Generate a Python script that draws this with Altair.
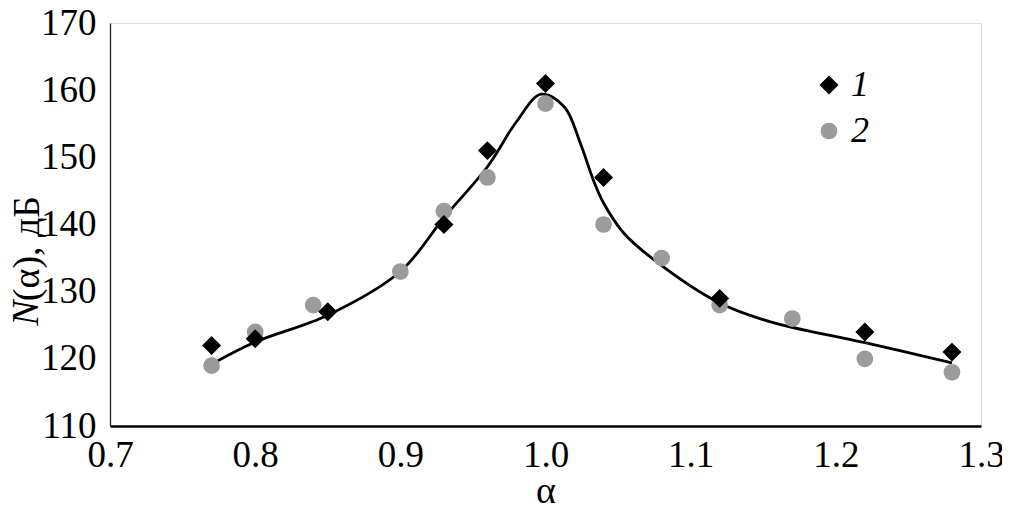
import altair as alt
import pandas as pd

# Series 1 (diamonds)
alpha_1 = [0.77, 0.80, 0.85, 0.93, 0.96, 1.00, 1.04, 1.12, 1.22, 1.28]
n_1 = [122, 123, 127, 140, 151, 161, 147, 129, 124, 121]

# Series 2 (grey circles)
alpha_2 = [0.77, 0.80, 0.84, 0.90, 0.93, 0.96, 1.00, 1.04, 1.08, 1.12, 1.17, 1.22, 1.28]
n_2 = [119, 124, 128, 133, 142, 147, 158, 140, 135, 128, 126, 120, 118]

# Fitted curve
curve_alpha = [0.77, 0.80, 0.85, 0.90, 0.93, 0.96, 0.98, 0.997, 1.013, 1.024, 1.033,
               1.04, 1.054, 1.075, 1.12, 1.155, 1.22, 1.28]
curve_n = [119.2, 122.5, 126.5, 133.0, 141.0, 148.6, 155.3, 159.4, 157.5, 152.1, 146.6,
           143.2, 138.7, 134.7, 128.3, 125.5, 122.4, 119.4]

x_ticks = [0.7, 0.8, 0.9, 1.0, 1.1, 1.2, 1.3]
y_ticks = [110, 120, 130, 140, 150, 160, 170]

series_names = ["1", "2"]
y_title_italic = "N"
y_title_rest = "(α), дБ"

pts = pd.concat([
    pd.DataFrame({"alpha": alpha_1, "N": n_1, "series": "1"}),
    pd.DataFrame({"alpha": alpha_2, "N": n_2, "series": "2"}),
])
pts["order"] = pts["series"].map({"1": 2, "2": 1})
curve = pd.DataFrame({"alpha": curve_alpha, "N": curve_n})

FONT = "Liberation Serif"

xscale = alt.Scale(domain=[0.7, 1.3], nice=False, zero=False)
yscale = alt.Scale(domain=[110, 170], nice=False, zero=False)

xaxis = alt.Axis(values=x_ticks, format=".1f", title="α", grid=False, ticks=False, tickSize=0,
                 labelFont=FONT, labelFontSize=37, labelColor="#000", labelPadding=40,
                 labelBaseline="alphabetic", labelFlush=False,
                 domainColor="#000", domainWidth=2.5,
                 titleFont=FONT, titleFontSize=38, titleFontWeight="normal", titleColor="#000",
                 titleBaseline="alphabetic", titleY=76)
yaxis = alt.Axis(values=y_ticks, title=y_title_rest, grid=False, ticks=False, tickSize=0,
                 labelFont=FONT, labelFontSize=37, labelColor="#000", labelPadding=14,
                 labelFlush=False,
                 domainColor="#222", domainWidth=1.3,
                 titleFont=FONT, titleFontSize=38, titleFontWeight="normal", titleColor="#000",
                 titleBaseline="middle", titleX=-83, titleY=225, titleAngle=270)

line = alt.Chart(curve).mark_line(color="#000", strokeWidth=2.8, interpolate="catmull-rom").encode(
    x=alt.X("alpha:Q", scale=xscale, axis=xaxis),
    y=alt.Y("N:Q", scale=yscale, axis=yaxis),
)

legend = alt.Legend(title=None, orient="none", legendX=701, legendY=44,
                    symbolSize=380, labelFont=FONT, labelFontSize=36,
                    labelFontStyle="italic", labelColor="#000",
                    labelOffset=4, rowPadding=10, padding=0,
                    symbolStrokeWidth=0)

points = alt.Chart(pts).mark_point(filled=True, opacity=1).encode(
    x=alt.X("alpha:Q", scale=xscale),
    y=alt.Y("N:Q", scale=yscale),
    shape=alt.Shape("series:N", scale=alt.Scale(domain=series_names, range=["diamond", "circle"]),
                    legend=legend),
    color=alt.Color("series:N", scale=alt.Scale(domain=series_names, range=["#000000", "#9b9b9b"]),
                    legend=legend),
    size=alt.Size("series:N", scale=alt.Scale(domain=series_names, range=[360, 280]), legend=None),
    order=alt.Order("order:Q"),
)

n_label = alt.Chart(pd.DataFrame({"t": [y_title_italic]})).mark_text(
    font=FONT, fontSize=38, fontStyle="italic", color="#000", angle=270,
    align="center", baseline="middle",
).encode(text="t:N", x=alt.value(-83), y=alt.value(290))

chart = alt.layer(line, points, n_label).properties(
    width=871, height=403,
    autosize=alt.AutoSizeParams(type="none"),
    padding={"left": 102, "top": 15, "right": 21, "bottom": 80},
).configure_view(stroke=None).configure(background="white")

chart.save("out.html", embed_options={"renderer": "svg", "actions": False})
